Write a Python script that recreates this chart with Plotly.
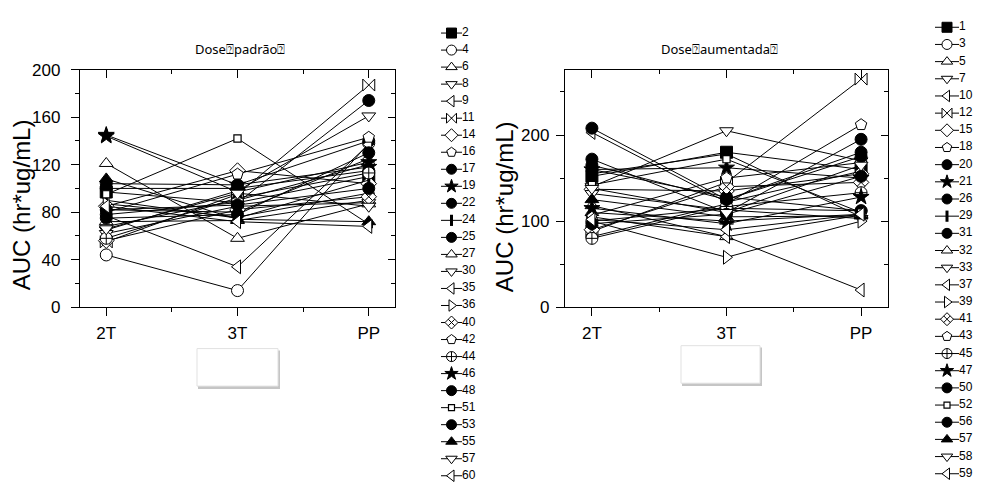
import plotly.graph_objects as go

# ---------------- data ----------------
timepoints = ["2T", "3T", "PP"]

std_subjects = ["2", "4", "6", "8", "9", "11", "14", "16", "17", "19", "22", "24", "25", "27",
                "30", "35", "36", "40", "42", "44", "46", "48", "51", "53", "55", "57", "60"]
std_2T = [97, 44, 121, 65, 82, 55, 85, 68, 104, 145, 78, 90, 100, 72, 62, 77, 87, 56, 80, 58, 144, 75, 95, 82, 108, 66, 85]
std_3T = [88, 14, 58, 98, 80, 95, 115, 90, 103, 103, 88, 75, 100, 73, 85, 34, 76, 82, 112, 92, 97, 78, 142, 86, 74, 96, 72]
std_PP = [110, 138, 87, 161, 125, 187, 104, 120, 140, 118, 174, 107, 115, 90, 88, 137, 96, 93, 143, 113, 122, 130, 70, 100, 72, 85, 68]

inc_subjects = ["1", "3", "5", "7", "10", "12", "15", "18", "20", "21", "26", "29", "31", "32",
                "33", "37", "39", "41", "43", "45", "47", "50", "52", "56", "57", "58", "59"]
inc_2T = [152, 100, 118, 140, 105, 88, 137, 82, 165, 160, 172, 155, 160, 110, 132, 203, 100, 90, 107, 80, 115, 208, 142, 97, 125, 138, 102]
inc_3T = [180, 115, 82, 205, 82, 145, 135, 120, 125, 162, 110, 178, 128, 100, 113, 122, 58, 140, 150, 117, 97, 125, 172, 108, 105, 110, 90]
inc_PP = [160, 112, 107, 170, 20, 265, 155, 212, 180, 150, 195, 105, 112, 108, 103, 158, 100, 145, 168, 133, 128, 175, 110, 152, 106, 165, 108]

title_std = "Dose\u2370padrão\u2370"
title_inc = "Dose\u2370aumentada\u2370"
y_title = "AUC (hr*ug/mL)"

# Origin-like symbol cycle (symbol, filled)
symbols = [("square", True), ("circle", False), ("triangle-up", False), ("triangle-down", False),
           ("triangle-left", False), ("bowtie", False), ("diamond", False), ("pentagon", False),
           ("circle", True), ("star", True), ("circle", True), ("line-ns", True), ("circle", True),
           ("triangle-up", False), ("triangle-down", False), ("triangle-left", False),
           ("triangle-right", False), ("diamond-x", False), ("pentagon", False),
           ("circle-cross", False), ("star", True), ("circle", True), ("square", False),
           ("circle", True), ("triangle-up", True), ("triangle-down", False), ("triangle-left", False)]

W, H = 981, 500
NUM_FONT = "Liberation Sans Narrow, Arial Narrow, Liberation Sans, Arial"

fig = go.Figure()


def marker_style(k, size):
    sym, filled = symbols[k]
    if sym == "line-ns":
        return dict(symbol=sym, size=size * 0.8, color="black", line=dict(color="black", width=3))
    if sym == "square" and not filled:
        return dict(symbol=sym, size=size * 0.6, color="white", line=dict(color="black", width=1.2))
    return dict(symbol=sym, size=size, color="black" if filled else "white",
                line=dict(color="black", width=1))


def add_panel(subjects, v2, v3, vp, xa, ya):
    for k, s in enumerate(subjects):
        fig.add_trace(go.Scatter(
            x=[0, 1, 2], y=[v2[k], v3[k], vp[k]], mode="lines+markers",
            line=dict(color="black", width=1), marker=marker_style(k, 12),
            xaxis=xa, yaxis=ya, showlegend=False, name=s, cliponaxis=False))


add_panel(std_subjects, std_2T, std_3T, std_PP, "x", "y")
add_panel(inc_subjects, inc_2T, inc_3T, inc_PP, "x2", "y2")

# dummy traces to register the mirrored (inside-tick) axes
for xa, ya in [("x3", "y"), ("x", "y3"), ("x4", "y2"), ("x2", "y4")]:
    fig.add_trace(go.Scatter(x=[1], y=[50], mode="markers", marker=dict(size=0, opacity=0),
                             xaxis=xa, yaxis=ya, showlegend=False, hoverinfo="skip"))


# ---------------- custom legends (pixel space overlay) ----------------
def add_legend(subjects, x0, x1, xt, y0, dy):
    lx, ly, mx, my = [], [], [], []
    for i in range(len(subjects)):
        yy = y0 + i * dy
        lx += [x0, x1, None]
        ly += [yy, yy, None]
        mx.append((x0 + x1) / 2)
        my.append(yy)
    fig.add_trace(go.Scatter(x=lx, y=ly, mode="lines", line=dict(color="black", width=1),
                             xaxis="x5", yaxis="y5", showlegend=False, hoverinfo="skip",
                             cliponaxis=False))
    for i in range(len(subjects)):
        fig.add_trace(go.Scatter(x=[mx[i]], y=[my[i]], mode="markers", marker=marker_style(i, 10),
                                 xaxis="x5", yaxis="y5", showlegend=False, hoverinfo="skip",
                                 cliponaxis=False))
    fig.add_trace(go.Scatter(x=[xt] * len(subjects), y=my, mode="text", text=subjects,
                             textposition="middle right", cliponaxis=False,
                             textfont=dict(family=NUM_FONT, size=12, color="black"),
                             xaxis="x5", yaxis="y5", showlegend=False, hoverinfo="skip"))


add_legend(std_subjects, 441, 462, 462, 25, 17.7)
add_legend(inc_subjects, 935, 959, 959, 19, 17.85)

# ---------------- axes ----------------
tickfont = dict(family=NUM_FONT, size=17, color="black")
dom_y = [1 - 310 / H, 1 - 63 / H]
dom_x1 = [80 / W, 395 / W]
dom_x2 = [565 / W, 888 / W]

xcommon = dict(range=[-0.2, 2.2], tickvals=[0, 1, 2], ticktext=timepoints, showgrid=False,
               zeroline=False, tickfont=tickfont, ticklen=8, tickwidth=1.3, tickcolor="black")


def xax(domain, anchor):
    return dict(domain=domain, anchor=anchor, ticks="outside", showline=True, linecolor="black",
                linewidth=1.3, mirror=True, ticklabelstandoff=2,
                minor=dict(tickvals=[0.5, 1.5], ticks="outside", ticklen=4, tickwidth=1.3,
                           tickcolor="black"), **xcommon)


def xax_top(over, anchor):
    return dict(overlaying=over, anchor=anchor, side="top", ticks="inside", showticklabels=False,
                showline=False,
                minor=dict(tickvals=[0.5, 1.5], ticks="inside", ticklen=4, tickwidth=1.3,
                           tickcolor="black"), **xcommon)


def yax(domain, anchor, rng, major, minor_vals, standoff):
    return dict(domain=domain, anchor=anchor, range=rng, tickvals=major, ticks="outside", ticklen=8,
                tickwidth=1.3, tickcolor="black", showline=True, linecolor="black", linewidth=1.3,
                mirror=True, showgrid=False, zeroline=False, tickfont=tickfont,
                ticklabelstandoff=standoff,
                minor=dict(tickvals=minor_vals, ticks="outside", ticklen=4, tickwidth=1.3,
                           tickcolor="black"))


def yax_right(over, anchor, rng, major, minor_vals):
    return dict(overlaying=over, anchor=anchor, side="right", range=rng, tickvals=major,
                ticks="inside", ticklen=7, tickwidth=1.3, tickcolor="black", showticklabels=False,
                showline=False, showgrid=False, zeroline=False,
                minor=dict(tickvals=minor_vals, ticks="inside", ticklen=4, tickwidth=1.3,
                           tickcolor="black"))


y1_major = [0, 40, 80, 120, 160, 200]
y1_minor = [20, 60, 100, 140, 180]
y2_major = [0, 100, 200]
y2_minor = [50, 150, 250]

fig.update_layout(
    width=W, height=H, margin=dict(l=0, r=0, t=0, b=0),
    paper_bgcolor="white", plot_bgcolor="rgba(0,0,0,0)", showlegend=False,
    xaxis=xax(dom_x1, "y"),
    yaxis=yax(dom_y, "x", [0, 200], y1_major, y1_minor, 7),
    xaxis2=xax(dom_x2, "y2"),
    yaxis2=yax(dom_y, "x2", [0, 276], y2_major, y2_minor, 3),
    xaxis3=xax_top("x", "y"),
    yaxis3=yax_right("y", "x", [0, 200], y1_major, y1_minor),
    xaxis4=xax_top("x2", "y2"),
    yaxis4=yax_right("y2", "x2", [0, 276], y2_major, y2_minor),
    xaxis5=dict(domain=[0, 1], anchor="y5", range=[0, W], visible=False, fixedrange=True),
    yaxis5=dict(domain=[0, 1], anchor="x5", range=[H, 0], visible=False, fixedrange=True),
)

# titles
for xc, txt in [(240, title_std), (719, title_inc)]:
    fig.add_annotation(x=xc / W, y=1 - 42 / H, xref="paper", yref="paper", text=txt,
                       xanchor="center", yanchor="middle", showarrow=False,
                       font=dict(family="Noto Sans, Open Sans", size=13, color="black"))
for xc, yc in [(21, 204), (504, 206)]:
    fig.add_annotation(x=xc / W, y=1 - yc / H, xref="paper", yref="paper", text=y_title,
                       textangle=-90, xanchor="center", yanchor="middle", showarrow=False,
                       font=dict(family="Liberation Sans, Arial", size=24, color="black"))

# blank text boxes with shadow below each panel
for (bx0, by0, bx1, by1) in [(197, 353, 278, 392), (681, 350, 760, 389)]:
    fig.add_shape(type="rect", xref="paper", yref="paper", x0=(bx0 + 1) / W, x1=(bx1 + 2) / W,
                  y0=1 - (by1 + 3) / H, y1=1 - (by0 + 2) / H,
                  fillcolor="rgba(150,150,150,0.55)", line=dict(width=0), layer="above")
    fig.add_shape(type="rect", xref="paper", yref="paper", x0=bx0 / W, x1=bx1 / W,
                  y0=1 - by1 / H, y1=1 - by0 / H,
                  fillcolor="white", line=dict(color="rgb(225,225,225)", width=1), layer="above")

fig.write_html("out.html", config={"displayModeBar": False},
               post_script="document.body.style.margin='0px';document.body.style.overflow='hidden';")
